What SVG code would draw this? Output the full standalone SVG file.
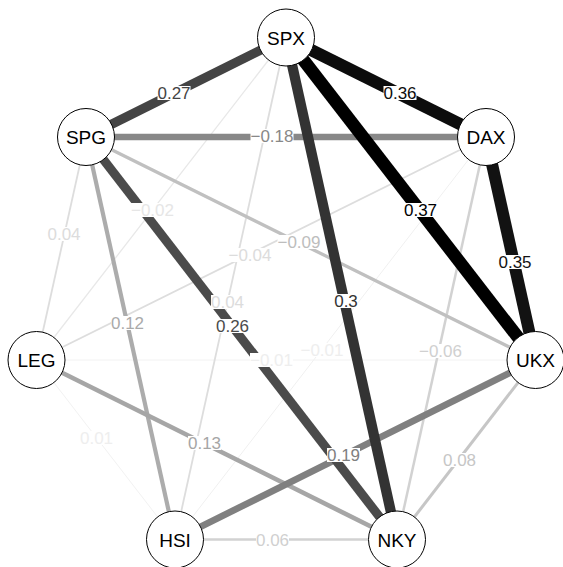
<svg xmlns="http://www.w3.org/2000/svg" width="563" height="567" viewBox="0 0 563 567">
<style>
.e{fill:none;stroke-linecap:butt}
.bg{fill:#fff}
.lb{font-family:"Liberation Sans",Arial,sans-serif;font-size:17px;text-anchor:middle}
.nd circle{fill:#fff;stroke:#000;stroke-width:1}
.nd text{font-family:"Liberation Sans",Arial,sans-serif;font-size:19px;text-anchor:middle;fill:#000}
</style>
<rect width="563" height="567" fill="#fff"/>
<g id="connectors">
<line class="e" x1="36.5" y1="360" x2="175" y2="539.5" stroke="#f2f2f2" stroke-width="1"/>
<line class="e" x1="36.5" y1="360" x2="535.5" y2="360" stroke="#f2f2f2" stroke-width="1"/>
<line class="e" x1="175" y1="539.5" x2="486" y2="137" stroke="#f0f0f0" stroke-width="1"/>
<line class="e" x1="286" y1="37.5" x2="36.5" y2="360" stroke="#e8e8e8" stroke-width="1.3"/>
<line class="e" x1="86" y1="137" x2="36.5" y2="360" stroke="#dddddd" stroke-width="1.8"/>
<line class="e" x1="36.5" y1="360" x2="486" y2="137" stroke="#dddddd" stroke-width="1.8"/>
<line class="e" x1="286" y1="37.5" x2="175" y2="539.5" stroke="#dddddd" stroke-width="1.8"/>
<line class="e" x1="175" y1="539.5" x2="397" y2="539.5" stroke="#d2d2d2" stroke-width="2.5"/>
<line class="e" x1="397" y1="539.5" x2="486" y2="137" stroke="#d2d2d2" stroke-width="2.5"/>
<line class="e" x1="397" y1="539.5" x2="535.5" y2="360" stroke="#c6c6c6" stroke-width="3"/>
<line class="e" x1="86" y1="137" x2="535.5" y2="360" stroke="#c0c0c0" stroke-width="3.3"/>
<line class="e" x1="86" y1="137" x2="175" y2="539.5" stroke="#acacac" stroke-width="4.2"/>
<line class="e" x1="36.5" y1="360" x2="397" y2="539.5" stroke="#a6a6a6" stroke-width="4.6"/>
<line class="e" x1="86" y1="137" x2="486" y2="137" stroke="#888888" stroke-width="6.3"/>
<line class="e" x1="175" y1="539.5" x2="535.5" y2="360" stroke="#808080" stroke-width="6.7"/>
<line class="e" x1="86" y1="137" x2="397" y2="539.5" stroke="#4b4b4b" stroke-width="9"/>
<line class="e" x1="286" y1="37.5" x2="86" y2="137" stroke="#444444" stroke-width="9.3"/>
<line class="e" x1="286" y1="37.5" x2="397" y2="539.5" stroke="#333333" stroke-width="10.3"/>
<line class="e" x1="486" y1="137" x2="535.5" y2="360" stroke="#121212" stroke-width="12"/>
<line class="e" x1="286" y1="37.5" x2="486" y2="137" stroke="#0c0c0c" stroke-width="12.3"/>
<line class="e" x1="286" y1="37.5" x2="535.5" y2="360" stroke="#000000" stroke-width="12.7"/>
</g>
<g id="edge-labels">
<rect class="bg" x="80" y="431" width="33" height="14"/><text class="lb" x="96.5" y="444" fill="#eeeeee">0.01</text>
<rect class="bg" x="250" y="353" width="43" height="14"/><text class="lb" x="271.5" y="366" fill="#eeeeee">−0.01</text>
<rect class="bg" x="300.5" y="343" width="43" height="14"/><text class="lb" x="322" y="356" fill="#eeeeee">−0.01</text>
<rect class="bg" x="131" y="203" width="43" height="14"/><text class="lb" x="152.5" y="216" fill="#e6e6e6">−0.02</text>
<rect class="bg" x="47.5" y="227" width="33" height="14"/><text class="lb" x="64" y="240" fill="#dcdcdc">0.04</text>
<rect class="bg" x="228.5" y="248" width="43" height="14"/><text class="lb" x="250" y="261" fill="#dcdcdc">−0.04</text>
<rect class="bg" x="211" y="295" width="33" height="14"/><text class="lb" x="227.5" y="308" fill="#dcdcdc">0.04</text>
<rect class="bg" x="256" y="533" width="33" height="14"/><text class="lb" x="272.5" y="546" fill="#d0d0d0">0.06</text>
<rect class="bg" x="419" y="344" width="43" height="14"/><text class="lb" x="440.5" y="357" fill="#d0d0d0">−0.06</text>
<rect class="bg" x="443" y="453" width="33" height="14"/><text class="lb" x="459.5" y="466" fill="#c6c6c6">0.08</text>
<rect class="bg" x="277.5" y="235" width="43" height="14"/><text class="lb" x="299" y="248" fill="#bdbdbd">−0.09</text>
<rect class="bg" x="111" y="316" width="33" height="14"/><text class="lb" x="127.5" y="329" fill="#aaaaaa">0.12</text>
<rect class="bg" x="188" y="436" width="33" height="14"/><text class="lb" x="204.5" y="449" fill="#a6a6a6">0.13</text>
<rect class="bg" x="250.5" y="129" width="43" height="14"/><text class="lb" x="272" y="142" fill="#888888">−0.18</text>
<rect class="bg" x="327" y="448" width="33" height="14"/><text class="lb" x="343.5" y="461" fill="#808080">0.19</text>
<rect class="bg" x="216" y="319" width="33" height="14"/><text class="lb" x="232.5" y="332" fill="#4b4b4b">0.26</text>
<rect class="bg" x="157.5" y="86" width="33" height="14"/><text class="lb" x="174" y="99" fill="#444444">0.27</text>
<rect class="bg" x="334" y="294" width="24" height="14"/><text class="lb" x="346" y="307" fill="#333333">0.3</text>
<rect class="bg" x="498.5" y="255" width="33" height="14"/><text class="lb" x="515" y="268" fill="#121212">0.35</text>
<rect class="bg" x="383.5" y="86" width="33" height="14"/><text class="lb" x="400" y="99" fill="#0c0c0c">0.36</text>
<rect class="bg" x="404" y="203" width="33" height="14"/><text class="lb" x="420.5" y="216" fill="#000000">0.37</text>
</g>
<g id="SPX" class="nd"><circle cx="286" cy="37.5" r="28.5"/><text x="286" y="44.5">SPX</text></g>
<g id="SPG" class="nd"><circle cx="86" cy="137" r="28.5"/><text x="86" y="144">SPG</text></g>
<g id="DAX" class="nd"><circle cx="486" cy="137" r="28.5"/><text x="486" y="144">DAX</text></g>
<g id="LEG" class="nd"><circle cx="36.5" cy="360" r="28.5"/><text x="36.5" y="367">LEG</text></g>
<g id="UKX" class="nd"><circle cx="535.5" cy="360" r="28.5"/><text x="535.5" y="367">UKX</text></g>
<g id="HSI" class="nd"><circle cx="175" cy="539.5" r="28.5"/><text x="175" y="546.5">HSI</text></g>
<g id="NKY" class="nd"><circle cx="397" cy="539.5" r="28.5"/><text x="397" y="546.5">NKY</text></g>
</svg>
